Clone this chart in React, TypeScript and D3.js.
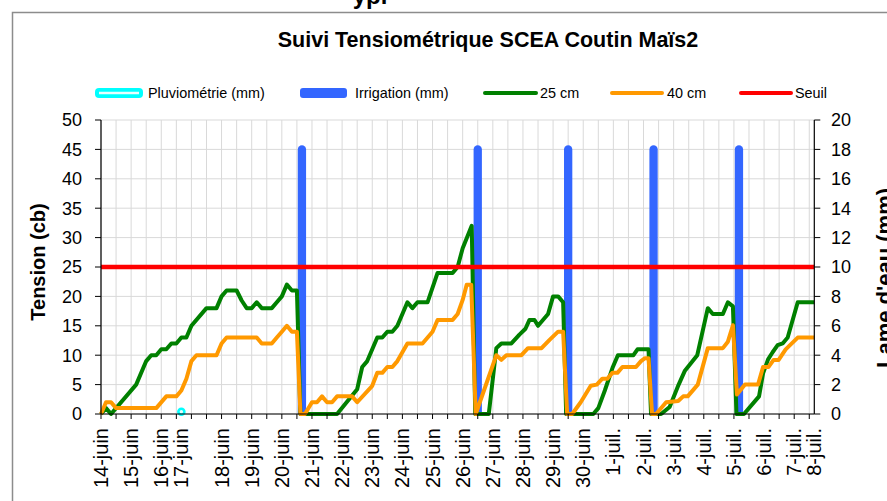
import React from "react";
import * as d3 from "d3";

// ---------- data ----------
const seriesNames = ["Pluviométrie (mm)", "Irrigation (mm)", "25 cm", "40 cm", "Seuil"];

// x is the measurement index (category) of the category axis
const dateLabels = [
  "14-juin", "15-juin", "16-juin", "17-juin", "18-juin", "19-juin", "20-juin", "21-juin",
  "22-juin", "23-juin", "24-juin", "25-juin", "26-juin", "27-juin", "28-juin", "29-juin",
  "30-juin", "1-juil.", "2-juil.", "3-juil.", "4-juil.", "5-juil.", "6-juil.", "7-juil.", "8-juil.",
];
const dateLabelIdx = [0, 6, 12, 16, 24, 30, 36, 42, 48, 54, 60, 66, 72, 78, 84, 90, 96, 102, 108, 114, 120, 126, 132, 138, 142];

const irrigationIdx = [40, 75, 93, 110, 127];
const irrigationMm = [18, 18, 18, 18, 18];

const pluvioIdx = [16];
const pluvioMm = [0.15];

const seuilCb = 25;

const tension25: [number, number][] = [
  [0, 0], [1, 1], [2, 0], [7, 5], [9, 9], [10, 10], [11, 10], [12, 11], [13, 11], [14, 12], [15, 12],
  [16, 13], [17, 13], [18, 15], [21, 18], [23, 18], [24, 20], [25, 21], [27, 21], [28, 19.3], [29, 18],
  [30, 18], [31, 19], [32, 18], [34, 18], [35, 19], [36, 20], [37, 22], [38, 21], [39, 21], [39.7, 0],
  [47, 0], [51, 4.2], [52, 8], [53, 9], [55, 13], [56, 13], [57, 14], [58, 14], [59, 15], [61, 19],
  [62, 18], [63, 19], [65, 19], [67, 24], [70, 24], [71, 25], [72, 28.2], [73.8, 32], [74.5, 0],
  [77.2, 0], [78.7, 11.2], [79.7, 12], [81.7, 12], [83.3, 13.5], [84.5, 14.5], [85.3, 16], [86.3, 16],
  [87, 15], [89, 17], [90, 20], [91, 20], [92, 19], [92.6, 0], [98, 0], [99, 1], [100.3, 4],
  [101.9, 8], [102.9, 10], [106, 10], [106.8, 11], [109, 11], [109.5, 0], [111.5, 0], [113.2, 1.2],
  [115, 5], [116.2, 7.3], [118.7, 10], [120.8, 18], [121.8, 17], [123.8, 17], [124.8, 19],
  [125.8, 18.3], [126.5, 0], [128, 0], [131, 3], [131.8, 6.9], [132.8, 9.3], [133.7, 10.5],
  [134.7, 11.7], [135.7, 12], [136.7, 13], [138.7, 19], [142, 19],
];

const tension40: [number, number][] = [
  [0, 0], [1, 2], [2, 2], [3, 1], [11, 1], [13, 3], [15, 3], [16, 4], [17, 6], [18, 9], [19, 10],
  [23, 10], [24, 12], [25, 13], [31, 13], [32, 12], [34, 12], [35, 13], [36, 14], [37, 15], [38, 14],
  [39, 14], [39.7, 0], [40.6, 0], [42, 2], [43, 2], [44, 3], [45, 2], [46, 2], [47, 3], [50, 3],
  [51, 2], [54, 4.8], [55, 7], [56, 7], [57, 8], [58, 8], [59, 9], [61, 12], [64, 12], [66, 14],
  [67, 16], [70, 16], [71, 17], [72, 19.4], [72.8, 22], [73.7, 22], [74.6, 0], [78.7, 10],
  [79.7, 9.2], [80.7, 10], [83.7, 10], [85, 11.2], [87.7, 11.2], [89.3, 12.6], [91, 14], [92, 14],
  [92.8, 0], [93.8, 0], [95.5, 2], [97.5, 4.8], [98.7, 5], [99.8, 6], [100.8, 6], [101.8, 7],
  [102.8, 7], [103.8, 8], [106.5, 8], [107.5, 9], [108.3, 9.5], [109, 9.5], [109.7, 0], [110.5, 0],
  [112.5, 2], [114.9, 2.2], [115.9, 3], [116.8, 3], [118.8, 5], [120.8, 11.2], [123.8, 11.2],
  [124.8, 12.3], [125.8, 15.1], [126.6, 3.3], [128.2, 5], [130.8, 5], [131.8, 8], [132.9, 8],
  [133.9, 9.2], [134.9, 9.2], [136.3, 11], [138.7, 13], [142, 13],
];

const leftTicks = [0, 5, 10, 15, 20, 25, 30, 35, 40, 45, 50];
const rightTicks = [0, 2, 4, 6, 8, 10, 12, 14, 16, 18, 20];

// ---------- layout ----------
const W = 887;
const H = 501;
const PL = 101, PR = 814.3, PT = 120, PB = 414;
const FONT = "'Liberation Sans', Arial, sans-serif";
const C = { pluvio: "#00ffff", irr: "#3366ff", t25: "#008000", t40: "#ff9900", seuil: "#ff0000" };

export default function App() {
  const x = d3.scaleLinear().domain([0, 142]).range([PL, PR]);
  const yL = d3.scaleLinear().domain([0, 50]).range([PB, PT]);
  const yR = d3.scaleLinear().domain([0, 20]).range([PB, PT]);
  const line = d3
    .line<[number, number]>()
    .x((d) => x(d[0]))
    .y((d) => yL(d[1]));
  const gridX = d3.range(0, 142, 3);

  const legend = [
    { sx0: 95, sx1: 143, tx: 148, kind: "pluvio" },
    { sx0: 300, sx1: 347, tx: 355, kind: "irr" },
    { sx0: 485, sx1: 536, tx: 540, kind: "t25" },
    { sx0: 612, sx1: 662, tx: 667, kind: "t40" },
    { sx0: 741, sx1: 791, tx: 795, kind: "seuil" },
  ];
  const LY = 93;

  return (
    <svg
      width={W}
      height={H}
      viewBox={`0 0 ${W} ${H}`}
      style={{ position: "absolute", left: 0, top: 0, background: "#fff" }}
      fontFamily={FONT}
    >
      <rect x={0} y={0} width={W} height={H} fill="#fff" />
      <defs>
        <clipPath id="plotclip">
          <rect x={PL - 10} y={0} width={PR - PL + 20} height={PB} />
        </clipPath>
      </defs>

      {/* heading above, cut off at the top edge */}
      <text x={370} y={4} textAnchor="middle" fontSize={24} fontWeight="bold" fill="#000">
        ypi
      </text>

      {/* chart frame */}
      <path d={`M12.5,${H} V12.5 H${W}`} fill="none" stroke="#8c8c8c" strokeWidth={1.5} />

      {/* title */}
      <text x={488} y={46.5} textAnchor="middle" fontSize={21.5} fontWeight="bold" fill="#000">
        Suivi Tensiométrique SCEA Coutin Maïs2
      </text>

      {/* legend */}
      {legend.map((l, i) => (
        <g key={i}>
          {l.kind === "pluvio" && (
            <g>
              <rect x={l.sx0} y={LY - 5} width={l.sx1 - l.sx0} height={10} rx={4} fill={C.pluvio} />
              <line x1={l.sx0 + 4} x2={l.sx1 - 4} y1={LY} y2={LY} stroke="#e8ffff" strokeWidth={2.5} />
            </g>
          )}
          {l.kind === "irr" && (
            <rect x={l.sx0} y={LY - 5} width={l.sx1 - l.sx0} height={10} rx={3} fill={C.irr} />
          )}
          {(l.kind === "t25" || l.kind === "t40" || l.kind === "seuil") && (
            <line
              x1={l.sx0}
              x2={l.sx1}
              y1={LY}
              y2={LY}
              stroke={(C as any)[l.kind]}
              strokeWidth={4}
              strokeLinecap="round"
            />
          )}
          <text x={l.tx} y={LY + 5} fontSize={14.4} fill="#000">
            {seriesNames[i]}
          </text>
        </g>
      ))}

      {/* gridlines */}
      {leftTicks.map((t) => (
        <line key={"gh" + t} x1={PL} x2={PR} y1={yL(t)} y2={yL(t)} stroke="#d9d9d9" strokeWidth={1} />
      ))}
      {gridX.map((g) => (
        <line key={"gv" + g} x1={x(g)} x2={x(g)} y1={PT} y2={PB} stroke="#d9d9d9" strokeWidth={1} />
      ))}

      {/* irrigation bars */}
      <g clipPath="url(#plotclip)">
        {irrigationIdx.map((c, i) => (
          <line
            key={"irr" + i}
            x1={x(c)}
            x2={x(c)}
            y1={yR(0) + 6}
            y2={yR(irrigationMm[i])}
            stroke={C.irr}
            strokeWidth={8.3}
            strokeLinecap="round"
          />
        ))}
      </g>

      {/* pluviometrie */}
      {pluvioIdx.map((c, i) => (
        <circle
          key={"pl" + i}
          cx={x(c)}
          cy={yR(pluvioMm[i])}
          r={3}
          fill="#e8ffff"
          stroke={C.pluvio}
          strokeWidth={2.6}
        />
      ))}

      {/* tension lines */}
      <path d={line(tension25) || ""} fill="none" stroke={C.t25} strokeWidth={4} strokeLinejoin="round" />
      <path d={line(tension40) || ""} fill="none" stroke={C.t40} strokeWidth={4} strokeLinejoin="round" />

      {/* seuil */}
      <line x1={PL} x2={PR} y1={yL(seuilCb)} y2={yL(seuilCb)} stroke={C.seuil} strokeWidth={4.5} />

      {/* axes */}
      <line x1={PL} x2={PL} y1={PT} y2={PB} stroke="#000" strokeWidth={1.2} />
      <line x1={PR} x2={PR} y1={PT} y2={PB} stroke="#000" strokeWidth={1.2} />
      <line x1={PL} x2={PR} y1={PB} y2={PB} stroke="#000" strokeWidth={1.2} />

      {leftTicks.map((t) => (
        <g key={"lt" + t}>
          <line x1={PL - 6} x2={PL} y1={yL(t)} y2={yL(t)} stroke="#000" strokeWidth={1} />
          <text x={82} y={yL(t)} dy="0.36em" textAnchor="end" fontSize={18} fill="#000">
            {t}
          </text>
        </g>
      ))}
      {rightTicks.map((t) => (
        <g key={"rt" + t}>
          <line x1={PR} x2={PR + 6} y1={yR(t)} y2={yR(t)} stroke="#000" strokeWidth={1} />
          <text x={831} y={yR(t)} dy="0.36em" textAnchor="start" fontSize={18} fill="#000">
            {t}
          </text>
        </g>
      ))}
      {gridX.map((g) => (
        <line key={"bt" + g} x1={x(g)} x2={x(g)} y1={PB} y2={PB + 5} stroke="#000" strokeWidth={1} />
      ))}
      {dateLabels.map((lab, i) => (
        <text
          key={"dl" + i}
          transform={`translate(${x(dateLabelIdx[i])},428) rotate(-90)`}
          dy="0.35em"
          textAnchor="end"
          fontSize={20}
          fill="#000"
        >
          {lab}
        </text>
      ))}

      {/* axis titles */}
      <text
        transform={`translate(45,262) rotate(-90)`}
        textAnchor="middle"
        fontSize={20}
        fontWeight="bold"
        fill="#000"
      >
        Tension (cb)
      </text>
      <text
        transform={`translate(892,278) rotate(-90)`}
        textAnchor="middle"
        fontSize={22}
        fontWeight="bold"
        fill="#000"
      >
        Lame d'eau (mm)
      </text>
    </svg>
  );
}
